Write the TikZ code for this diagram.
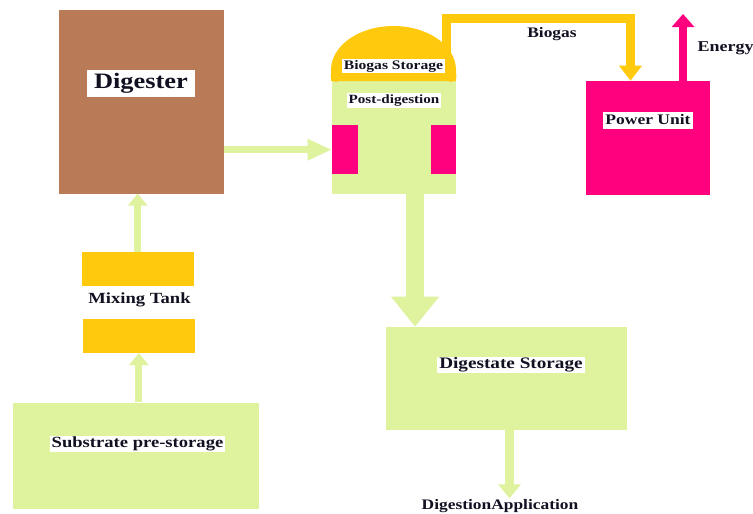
\documentclass[tikz,border=0pt]{standalone}
\usepackage{fontspec}
\setmainfont{Liberation Serif}
\usetikzlibrary{arrows.meta,calc}
\definecolor{lgreen}{HTML}{DFF29D}
\definecolor{gold}{HTML}{FFC90E}
\definecolor{hpink}{HTML}{FF007F}
\definecolor{brownd}{HTML}{B97A57}
\definecolor{ink}{HTML}{111122}
\newcommand{\sx}[1]{\scalebox{1.2}[1]{\rule[-0.24em]{0pt}{0.96em}#1}}
\newcommand{\fs}[1]{\fontsize{#1}{#1}\selectfont\bfseries}
\begin{document}
\begin{tikzpicture}[x=1pt,y=-1pt,
  box/.style={draw=none, inner sep=0pt, anchor=north west},
  lbl/.style={fill=white, text=ink, inner xsep=2pt, inner ysep=0.5pt},
  plain/.style={text=ink, inner sep=0.5pt},
  garrow/.style={draw=lgreen, line width=7pt, -{Triangle[length=12pt,width=19pt]}},
  harrow/.style={draw=lgreen, line width=7pt, -{Triangle[length=24pt,width=20pt]}},
  bigarrow/.style={draw=lgreen, line width=18pt, -{Triangle[length=30pt,width=46pt]}},
  sarrow/.style={draw=lgreen, line width=9pt, -{Triangle[length=14pt,width=22pt]}},
  yarrow/.style={draw=gold, line width=9pt, -{Triangle[length=15pt,width=22pt]}},
  parrow/.style={draw=hpink, line width=8pt, -{Triangle[length=13pt,width=22pt]}}]
\useasboundingbox (0,0) rectangle (753,514);
\fill[white] (0,0) rectangle (753,514);

% boxes
\node[box, fill=brownd, minimum width=165.4pt, minimum height=183.3pt] (dig) at (58.3,10) {};
\node[box, fill=lgreen, minimum width=124.3pt, minimum height=113.3pt] (post) at (331.7,80) {};
\node[box, fill=hpink, minimum width=25.6pt, minimum height=49pt] (pinkL) at (331.7,125) {};
\node[box, fill=hpink, minimum width=25pt, minimum height=49pt] (pinkR) at (431,125) {};
\node[box, fill=hpink, minimum width=124.3pt, minimum height=114.3pt] (pu) at (585.7,80.7) {};
\node[box, fill=lgreen, minimum width=240.7pt, minimum height=102.6pt] (ds) at (386,326.7) {};
\node[box, fill=gold, minimum width=111.6pt, minimum height=34pt] (mixT) at (81.7,251.7) {};
\node[box, fill=gold, minimum width=111.3pt, minimum height=34.4pt] (mixB) at (83,318.3) {};
\node[box, fill=lgreen, minimum width=245.6pt, minimum height=106.7pt] (sub) at (12.7,402.3) {};

% dome (biogas storage)
\fill[gold] (331,81) -- (331,70) arc[start angle=180, end angle=360, x radius=62.5, y radius=44] -- (456,81) -- cycle;
\fill[gold] (336,76.5) circle[radius=5.5];
\fill[gold] (451,76.5) circle[radius=5.5];
\coordinate (domeout) at (446.7,55);
\coordinate (pipeR) at (630.5,18.5);

% connectors
\draw[garrow] (mixT.north) -- (mixT.north |- dig.south);
\draw[garrow] (mixB.south |- sub.north) -- (mixB.south);
\draw[harrow] (dig.east |- pinkL.center) -- (pinkL.west);
\draw[bigarrow] ([xshift=21pt]post.south) -- ([xshift=21pt]post.south |- ds.north);
\draw[yarrow] (domeout) |- (pipeR) -- (pipeR |- pu.north);
\draw[parrow] ([xshift=35pt]pu.north) -- ++(0,-66.7);

% labels
\node[lbl, font=\fs{22}, inner xsep=7pt, inner ysep=3pt] (digl) at (141,83.5) {\sx{Digester}};
\node[lbl, font=\fs{13}] (bsl) at (393.5,66) {\sx{Biogas Storage}};
\node[lbl, font=\fs{12.6}, inner ysep=1pt] (pdl) at (394,100.5) {\sx{Post-digestion}};
\node[lbl, font=\fs{14.6}, inner ysep=1pt] (pul) at (648,120.5) {\sx{Power Unit}};
\node[plain, font=\fs{14.5}] (bg) at (552,34) {\sx{Biogas}};
\node[plain, font=\fs{15}, anchor=west] (en) at (697,48) {\sx{Energy}};
\node[plain, font=\fs{15.5}] (mtl) at (139.5,300) {\sx{Mixing Tank}};
\node[lbl, font=\fs{15.5}, inner ysep=1pt] (subl) at (137.5,444) {\sx{Substrate pre-storage}};
\node[lbl, font=\fs{16}] (dsl) at (511,365) {\sx{Digestate Storage}};
\node[plain, font=\fs{14.5}] (app) at (500,506) {\sx{DigestionApplication}};
\draw[sarrow] ([xshift=3pt]ds.south) -- ([xshift=3pt]ds.south |- app.north);
\end{tikzpicture}
\end{document}
